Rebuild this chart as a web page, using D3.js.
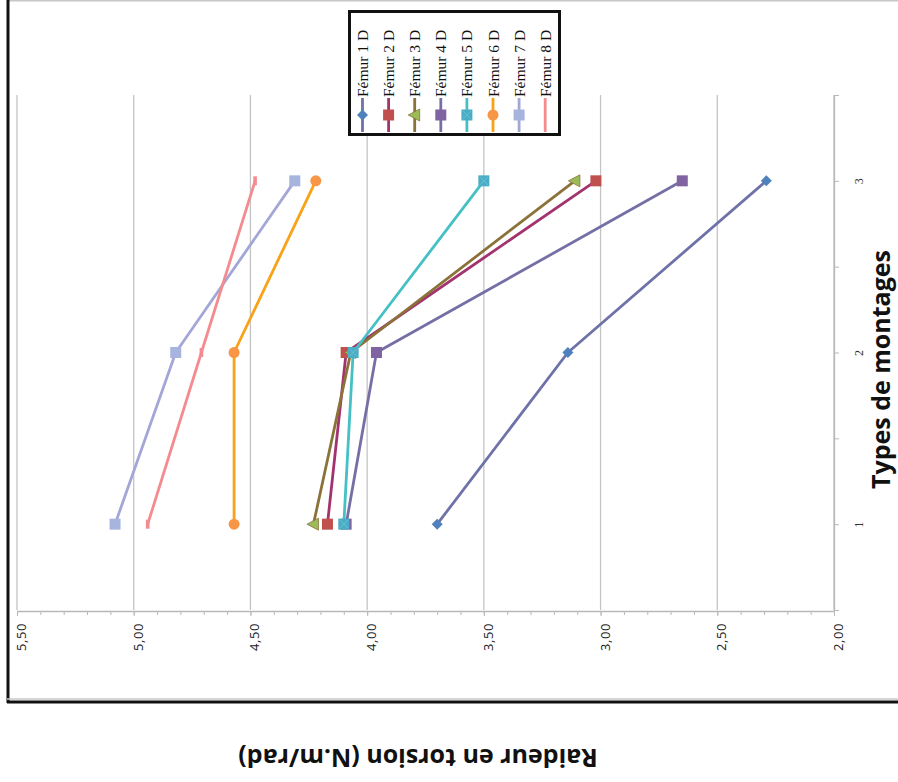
<!DOCTYPE html>
<html>
<head>
<meta charset="utf-8">
<script src="https://cdn.jsdelivr.net/npm/d3@7"></script>
<style>
  html, body { margin: 0; padding: 0; background: #fff; }
  svg { display: block; }
</style>
</head>
<body>
<svg id="chart" width="898" height="782"></svg>
<script>
// Torsional stiffness per femur for each assembly type
const categories = [1, 2, 3];
const valueTicks = [5.5, 5.0, 4.5, 4.0, 3.5, 3.0, 2.5, 2.0];
const tickLabels = ["5,50", "5,00", "4,50", "4,00", "3,50", "3,00", "2,50", "2,00"];
const seriesNames = ["Fémur 1  D", "Fémur 2 D", "Fémur 3 D", "Fémur 4 D",
                     "Fémur 5 D", "Fémur 6 D", "Fémur 7 D", "Fémur 8 D"];
const femur1 = [3.70, 3.14, 2.29];
const femur2 = [4.17, 4.09, 3.02];
const femur3 = [4.23, 4.07, 3.11];
const femur4 = [4.09, 3.96, 2.65];
const femur5 = [4.10, 4.06, 3.50];
const femur6 = [4.57, 4.57, 4.22];
const femur7 = [5.08, 4.82, 4.31];
const femur8 = [4.94, 4.71, 4.48];
const seriesValues = [femur1, femur2, femur3, femur4, femur5, femur6, femur7, femur8];

const lineColors   = ["#6e72a8", "#a3336f", "#8b7238", "#7470a6", "#45c1c5", "#f9a217", "#a2a7d8", "#f38b8f"];
const markerColors = ["#4f81bd", "#c0504d", "#9bbb59", "#8064a2", "#4bacc6", "#f79646", "#a7b5de", "#f38b8f"];
const markerShapes = ["diamond", "square", "triangle", "square", "squarex", "circle", "square", "dash"];

const svg = d3.select("#chart");

// frame
svg.append("line").attr("x1", 9).attr("x2", 898).attr("y1", 0.5).attr("y2", 0.5)
  .attr("stroke", "#c8c8c8").attr("stroke-width", 2);
svg.append("line").attr("x1", 8).attr("x2", 8).attr("y1", 0).attr("y2", 703)
  .attr("stroke", "#111").attr("stroke-width", 3);
svg.append("line").attr("x1", 7).attr("x2", 898).attr("y1", 699).attr("y2", 699)
  .attr("stroke", "#c8c8c8").attr("stroke-width", 1.5);
svg.append("line").attr("x1", 7).attr("x2", 898).attr("y1", 702).attr("y2", 702)
  .attr("stroke", "#111").attr("stroke-width", 3);

// scales: value runs horizontally (reversed), categories vertically
const x = d3.scaleLinear().domain([5.5, 2.0]).range([17, 834]);
const y = d3.scaleLinear().domain([0.5, 3.5]).range([610, 95]);

// gridlines
svg.append("g").selectAll("line").data(valueTicks).join("line")
  .attr("x1", d => x(d)).attr("x2", d => x(d))
  .attr("y1", y(3.5)).attr("y2", y(0.5))
  .attr("stroke", "#c4c4c4").attr("stroke-width", 1.3);

// value axis (bottom)
const minorTicks = d3.range(0, 36).map(i => 2.0 + i * 0.1);
const gMinor = svg.append("g").attr("transform", "translate(0,611)")
  .call(d3.axisBottom(x).tickValues(minorTicks).tickSize(4).tickFormat(""));
gMinor.select(".domain").remove();
gMinor.selectAll("line").attr("stroke", "#b8b8b8");

const gx = svg.append("g").attr("transform", "translate(0,611)")
  .call(d3.axisBottom(x).tickValues(valueTicks).tickSize(5).tickSizeOuter(0)
    .tickFormat((d, i) => tickLabels[i]));
gx.select(".domain").attr("stroke", "#b8b8b8").attr("stroke-width", 1.3);
gx.selectAll(".tick line").attr("stroke", "#b8b8b8");
gx.selectAll(".tick text")
  .attr("transform", "rotate(-90)")
  .attr("text-anchor", "end")
  .attr("x", -12).attr("y", 8.5).attr("dy", 0)
  .attr("fill", "#222")
  .style("font-family", "'Open Sans', sans-serif")
  .style("font-size", "13px")
  .style("letter-spacing", "0.6px");

// category axis (right)
const catTicks = [0.5, 1, 1.5, 2, 2.5, 3, 3.5];
const gy = svg.append("g").attr("transform", "translate(834,0)")
  .call(d3.axisRight(y).tickValues(catTicks).tickSize(5).tickSizeOuter(0)
    .tickFormat(d => categories.includes(d) ? String(d) : ""));
gy.select(".domain").attr("stroke", "#b8b8b8").attr("stroke-width", 1.3);
gy.selectAll(".tick line").attr("stroke", "#b8b8b8");
gy.selectAll(".tick text")
  .attr("transform", "rotate(-90)")
  .attr("text-anchor", "middle")
  .attr("x", 0).attr("y", 29).attr("dy", 0)
  .attr("fill", "#333")
  .style("font-family", "'Liberation Serif', serif")
  .style("font-size", "12px");

// axis titles
svg.append("text")
  .attr("transform", `translate(890,${y(2) + 17}) rotate(-90)`)
  .attr("text-anchor", "middle")
  .style("font-family", "'Open Sans', sans-serif")
  .style("font-weight", "bold")
  .style("font-size", "25px")
  .attr("fill", "#111")
  .text("Types de montages");

svg.append("text")
  .attr("transform", "translate(418,749) rotate(180)")
  .attr("text-anchor", "middle")
  .style("font-family", "'Open Sans', sans-serif")
  .style("font-weight", "bold")
  .style("font-size", "25px")
  .attr("fill", "#111")
  .text("Raideur en torsion (N.m/rad)");

// marker drawing
function drawMarker(g, shape, color, cx, cy) {
  if (shape === "diamond") {
    g.append("path").attr("d", `M${cx},${cy - 5.5}L${cx + 5.5},${cy}L${cx},${cy + 5.5}L${cx - 5.5},${cy}Z`)
      .attr("fill", color);
  } else if (shape === "square" || shape === "squarex") {
    g.append("rect").attr("x", cx - 5.5).attr("y", cy - 5.5).attr("width", 11).attr("height", 11)
      .attr("fill", color);
    if (shape === "squarex") {
      g.append("path").attr("d", `M${cx - 4},${cy - 4}L${cx + 4},${cy + 4}M${cx + 4},${cy - 4}L${cx - 4},${cy + 4}`)
        .attr("stroke", "#6cc6d6").attr("stroke-width", 0.8);
    }
  } else if (shape === "triangle") {
    g.append("path").attr("d", `M${cx - 6.5},${cy}L${cx + 5},${cy - 6}L${cx + 5},${cy + 6}Z`)
      .attr("fill", color).attr("stroke", "#8b7238").attr("stroke-width", 0.8);
  } else if (shape === "circle") {
    g.append("circle").attr("cx", cx).attr("cy", cy).attr("r", 5.5).attr("fill", color);
  } else if (shape === "dash") {
    g.append("rect").attr("x", cx - 1.8).attr("y", cy - 4.5).attr("width", 3.6).attr("height", 9)
      .attr("fill", color);
  }
}

// series lines and markers
const line = d3.line().x(d => x(d.v)).y(d => y(d.c));
const plot = svg.append("g");
seriesValues.forEach((vals, si) => {
  const pts = vals.map((v, i) => ({ v, c: categories[i] }));
  const g = plot.append("g");
  g.append("path").datum(pts).attr("d", line)
    .attr("fill", "none").attr("stroke", lineColors[si]).attr("stroke-width", 2.8)
    .attr("stroke-linejoin", "round");
  pts.forEach(p => drawMarker(g, markerShapes[si], markerColors[si], x(p.v), y(p.c)));
});

// legend
const legend = svg.append("g");
legend.append("rect").attr("x", 349.5).attr("y", 11.5).attr("width", 210).attr("height", 123)
  .attr("fill", "#fff").attr("stroke", "#111").attr("stroke-width", 3);
seriesNames.forEach((name, i) => {
  const lx = 362.5 + i * 26.1;
  const g = legend.append("g");
  g.append("line").attr("x1", lx).attr("x2", lx).attr("y1", 98).attr("y2", 132)
    .attr("stroke", lineColors[i]).attr("stroke-width", 2.8);
  drawMarker(g, markerShapes[i] === "dash" ? "none" : markerShapes[i], markerColors[i], lx, 115);
  g.append("text")
    .attr("transform", `translate(${lx + 5.5},97) rotate(-90)`)
    .attr("text-anchor", "start")
    .style("font-family", "'Liberation Serif', serif")
    .style("font-size", "15.5px")
    .attr("fill", "#111")
    .text(name);
});
</script>
</body>
</html>
